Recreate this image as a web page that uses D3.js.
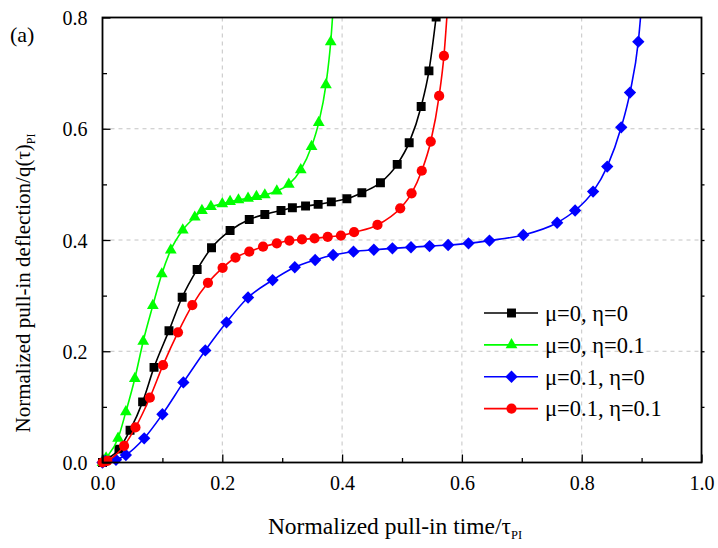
<!DOCTYPE html>
<html>
<head>
<meta charset="utf-8">
<script src="https://cdn.jsdelivr.net/npm/d3@7"></script>
<style>
  body { margin: 0; background: #fff; }
</style>
</head>
<body>
<svg width="718" height="548"></svg>
<script>
// normalized pull-in deflection vs time, four (mu, eta) cases
const xTicks = [0, 0.2, 0.4, 0.6, 0.8, 1.0];
const yTicks = [0, 0.2, 0.4, 0.6, 0.8];
const legendLabels = ["μ=0, η=0", "μ=0, η=0.1", "μ=0.1, η=0", "μ=0.1, η=0.1"];

// mu=0, eta=0 (black squares)
const blackX = [0, 0.006, 0.0275, 0.046, 0.067, 0.086, 0.111, 0.133, 0.158, 0.182, 0.213, 0.245, 0.271, 0.298, 0.317, 0.339, 0.360, 0.382, 0.408, 0.433, 0.464, 0.492, 0.512, 0.532, 0.545, 0.557];
const blackY = [0, 0.0045, 0.024, 0.058, 0.109, 0.171, 0.237, 0.297, 0.347, 0.386, 0.417, 0.437, 0.446, 0.453, 0.458, 0.461, 0.464, 0.4685, 0.474, 0.485, 0.503, 0.536, 0.575, 0.640, 0.704, 0.801];
// mu=0, eta=0.1 (green triangles)
const greenX = [0, 0.006, 0.026, 0.039, 0.054, 0.068, 0.084, 0.099, 0.114, 0.134, 0.154, 0.166, 0.181, 0.200, 0.213, 0.227, 0.243, 0.257, 0.271, 0.291, 0.311, 0.331, 0.349, 0.361, 0.373, 0.381, 0.387];
const greenY = [0, 0.008, 0.0435, 0.091, 0.151, 0.218, 0.282, 0.339, 0.382, 0.418, 0.441, 0.453, 0.460, 0.465, 0.469, 0.472, 0.475, 0.478, 0.481, 0.488, 0.500, 0.526, 0.568, 0.611, 0.679, 0.756, 0.85];
// mu=0.1, eta=0 (blue diamonds)
const blueX = [0, 0.005, 0.0225, 0.039, 0.0696, 0.100, 0.135, 0.1716, 0.207, 0.243, 0.284, 0.321, 0.355, 0.385, 0.419, 0.453, 0.484, 0.515, 0.546, 0.577, 0.611, 0.646, 0.7025, 0.759, 0.789, 0.819, 0.8426, 0.866, 0.8806, 0.8945, 0.902];
const blueY = [0, 0.003, 0.005, 0.0135, 0.0435, 0.0867, 0.144, 0.2015, 0.252, 0.2966, 0.328, 0.351, 0.364, 0.373, 0.379, 0.3825, 0.385, 0.387, 0.389, 0.391, 0.394, 0.399, 0.409, 0.431, 0.453, 0.487, 0.532, 0.6026, 0.665, 0.7565, 0.85];
// mu=0.1, eta=0.1 (red circles)
const redX = [0, 0.008, 0.036, 0.055, 0.079, 0.101, 0.126, 0.150, 0.176, 0.2005, 0.222, 0.245, 0.268, 0.291, 0.312, 0.333, 0.354, 0.376, 0.398, 0.420, 0.459, 0.497, 0.516, 0.533, 0.548, 0.562, 0.570, 0.578];
const redY = [0, 0.003, 0.030, 0.063, 0.1165, 0.175, 0.234, 0.283, 0.323, 0.350, 0.3685, 0.379, 0.388, 0.394, 0.399, 0.401, 0.403, 0.4055, 0.408, 0.414, 0.427, 0.457, 0.484, 0.5245, 0.577, 0.659, 0.731, 0.85];

const series = [
  { xs: blackX, ys: blackY, color: "#000000", symbol: d3.symbolSquare, size: 80, rotate: 0 },
  { xs: greenX, ys: greenY, color: "#00ff00", symbol: d3.symbolTriangle, size: 60, rotate: 0 },
  { xs: blueX, ys: blueY, color: "#0000ff", symbol: d3.symbolSquare, size: 76, rotate: 45 },
  { xs: redX, ys: redY, color: "#ff0000", symbol: d3.symbolCircle, size: 82, rotate: 0 }
];

const serif = "'Liberation Serif', 'Times New Roman', Times, 'DejaVu Serif', serif";

const svg = d3.select("svg").attr("font-family", serif);
const margin = { left: 102.5, top: 17.5 };
const width = 599, height = 445;
const graf = svg.append("g").attr("transform", `translate(${margin.left},${margin.top})`);

const x = d3.scaleLinear().domain([0, 1]).range([0, width]);
const y = d3.scaleLinear().domain([0, 0.8]).range([height, 0]);

// grid
graf.append("g")
  .selectAll("line")
  .data(xTicks.filter((t) => t > 0 && t < 1))
  .join("line")
  .attr("x1", (d) => x(d)).attr("x2", (d) => x(d))
  .attr("y1", 0).attr("y2", height)
  .attr("stroke", "#c4c4c4").attr("stroke-dasharray", "4,4");
graf.append("g")
  .selectAll("line")
  .data(yTicks.filter((t) => t > 0 && t < 0.8))
  .join("line")
  .attr("y1", (d) => y(d)).attr("y2", (d) => y(d))
  .attr("x1", 0).attr("x2", width)
  .attr("stroke", "#c4c4c4").attr("stroke-dasharray", "4,4");

// clip only at top/right so curves leave the frame
svg.append("defs").append("clipPath").attr("id", "clip")
  .append("rect").attr("x", -15).attr("y", 0).attr("width", width + 15).attr("height", height + 15);

const plot = graf.append("g").attr("clip-path", "url(#clip)");
const line = d3.line().curve(d3.curveMonotoneX);

series.forEach((s) => {
  const pts = s.xs.map((v, i) => [x(v), y(s.ys[i])]);
  plot.append("path")
    .attr("d", line(pts))
    .attr("fill", "none")
    .attr("stroke", s.color)
    .attr("stroke-width", 1.6);
  plot.append("g")
    .selectAll("path")
    .data(pts)
    .join("path")
    .attr("d", d3.symbol().type(s.symbol).size(s.size))
    .attr("transform", (d) => `translate(${d[0]},${d[1]}) rotate(${s.rotate})`)
    .attr("fill", s.color);
});

// axes: ticks inward
const fontSize = 20;
const xAxis = d3.axisBottom(x).tickValues(xTicks).tickFormat(d3.format(".1f")).tickSizeInner(-8).tickSizeOuter(0).tickPadding(13);
const yAxis = d3.axisLeft(y).tickValues(yTicks).tickFormat(d3.format(".1f")).tickSizeInner(-8).tickSizeOuter(0).tickPadding(15);
const xMinor = d3.axisBottom(x).tickValues(d3.range(0.1, 1, 0.2)).tickFormat("").tickSizeInner(-4.5).tickSizeOuter(0);
const yMinor = d3.axisLeft(y).tickValues(d3.range(0.1, 0.8, 0.2)).tickFormat("").tickSizeInner(-4.5).tickSizeOuter(0);
const rMinor = d3.axisRight(y).tickValues(d3.range(0.1, 0.8, 0.1)).tickFormat("").tickSizeInner(3).tickSizeOuter(0);

const gx = graf.append("g").attr("transform", `translate(0,${height})`).call(xAxis);
graf.append("g").attr("transform", `translate(0,${height})`).call(xMinor);
const gy = graf.append("g").call(yAxis);
graf.append("g").call(yMinor);
graf.append("g").attr("transform", `translate(${width},0)`).call(rMinor);

graf.selectAll(".domain").remove();
graf.selectAll(".tick line").attr("stroke", "#000").attr("stroke-width", 1.3);
graf.selectAll("g").attr("font-family", null);
gx.selectAll("text").attr("font-size", fontSize).attr("fill", "#000");
gy.selectAll("text").attr("font-size", fontSize).attr("fill", "#000").attr("dy", "0.35em");

// frame
graf.append("rect")
  .attr("width", width).attr("height", height)
  .attr("fill", "none").attr("stroke", "#000").attr("stroke-width", 1.8);

// titles
const xt = svg.append("text")
  .attr("x", 395).attr("y", 534)
  .attr("text-anchor", "middle")
  .attr("font-size", 23.5).attr("fill", "#000");
xt.append("tspan").text("Normalized pull-in time/τ");
xt.append("tspan").text("PI").attr("font-size", 12.5).attr("dy", 5);

const yt = svg.append("text")
  .attr("transform", "translate(30,283) rotate(-90)")
  .attr("text-anchor", "middle")
  .attr("font-size", 21).attr("fill", "#000");
yt.append("tspan").text("Normalized pull-in deflection/q(τ)");
yt.append("tspan").text("PI").attr("font-size", 12).attr("dy", 5);

svg.append("text").attr("x", 10).attr("y", 42).attr("font-size", 22).attr("fill", "#000").text("(a)");

// legend
const legend = svg.append("g").attr("transform", "translate(484,313)");
const legendRow = d3.scaleLinear().domain([0, 3]).range([0, 95.6]);
series.forEach((s, i) => {
  const row = legend.append("g").attr("transform", `translate(0,${legendRow(i)})`);
  row.append("line").attr("x1", 0).attr("x2", 54).attr("stroke", s.color).attr("stroke-width", 1.6);
  row.append("path")
    .attr("d", d3.symbol().type(s.symbol).size(s.size))
    .attr("transform", `translate(27.5,0) rotate(${s.rotate})`)
    .attr("fill", s.color);
  row.append("text").attr("x", 61).attr("y", 0).attr("dy", "0.35em")
    .attr("font-size", 22.5).attr("fill", "#000").text(legendLabels[i]);
});
</script>
</body>
</html>
